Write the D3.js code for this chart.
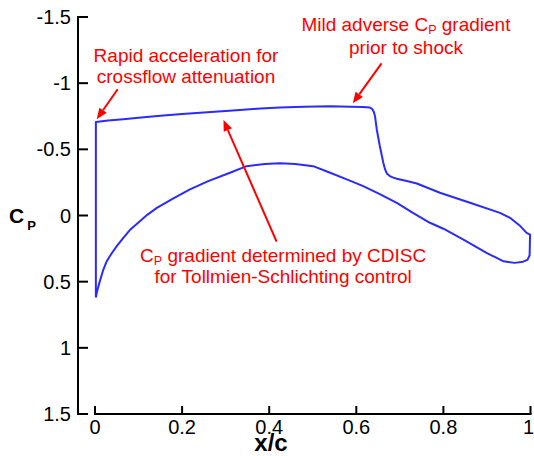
<!DOCTYPE html>
<html>
<head>
<meta charset="utf-8">
<script src="https://cdn.jsdelivr.net/npm/d3@7"></script>
<style>
  html, body { margin: 0; padding: 0; background: #fff; }
  svg { display: block; }
</style>
</head>
<body>
<svg id="chart" width="534" height="456"></svg>
<script>
// ---- data ----
// Upper surface: leading-edge stagnation cusp, up the leading edge, aft to the trailing edge
const upperX  = [0.002, 0.002, 0.03, 0.065, 0.1, 0.15, 0.2, 0.25, 0.3, 0.333, 0.38, 0.425, 0.48, 0.54, 0.585, 0.615, 0.631, 0.636, 0.640, 0.643, 0.647, 0.654, 0.662, 0.666, 0.670, 0.677, 0.685, 0.693, 0.716, 0.739, 0.792, 0.861, 0.930, 0.955, 0.975, 0.991, 0.999];
const upperCp = [0.62, -0.707, -0.718, -0.727, -0.738, -0.753, -0.767, -0.778, -0.79, -0.798, -0.808, -0.816, -0.822, -0.826, -0.822, -0.82, -0.816, -0.806, -0.785, -0.75, -0.65, -0.525, -0.399, -0.35, -0.318, -0.298, -0.286, -0.278, -0.26, -0.242, -0.172, -0.096, -0.02, 0.022, 0.075, 0.131, 0.144];
// Lower surface: from the trailing edge forward to the leading-edge cusp
const lowerX  = [0.998, 0.993, 0.983, 0.964, 0.938, 0.92, 0.899, 0.846, 0.80, 0.769, 0.73, 0.693, 0.655, 0.616, 0.578, 0.540, 0.501, 0.46, 0.425, 0.39, 0.348, 0.310, 0.26, 0.218, 0.18, 0.142, 0.12, 0.103, 0.08, 0.065, 0.05, 0.04, 0.034, 0.026, 0.019, 0.011, 0.007, 0.004, 0.002];
const lowerCp = [0.30, 0.335, 0.349, 0.358, 0.346, 0.317, 0.283, 0.182, 0.10, 0.055, -0.02, -0.096, -0.16, -0.222, -0.273, -0.323, -0.373, -0.39, -0.394, -0.39, -0.373, -0.323, -0.26, -0.197, -0.13, -0.058, -0.005, 0.043, 0.11, 0.169, 0.232, 0.278, 0.308, 0.352, 0.41, 0.498, 0.545, 0.585, 0.62];

const xTicks = [0, 0.2, 0.4, 0.6, 0.8, 1];
const xTickLabels = ["0", "0.2", "0.4", "0.6", "0.8", "1"];
const yTicks = [-1.5, -1, -0.5, 0, 0.5, 1, 1.5];
const yTickLabels = ["-1.5", "-1", "-0.5", "0", "0.5", "1", "1.5"];

// ---- layout ----
const svg = d3.select("#chart");
const font = "'Liberation Sans', Arial, Helvetica, sans-serif";
const x = d3.scaleLinear().domain([0, 1]).range([95, 530.5]);
const y = d3.scaleLinear().domain([-1.5, 1.5]).range([17, 414]);
const yAxisX = 78;

// y axis (offset left of x=0)
svg.append("line")
  .attr("x1", yAxisX).attr("x2", yAxisX)
  .attr("y1", y(-1.5) - 1).attr("y2", y(1.5) + 1)
  .attr("stroke", "#000").attr("stroke-width", 2);
svg.selectAll(".ytick").data(yTicks).enter().append("line")
  .attr("x1", yAxisX).attr("x2", yAxisX + 10)
  .attr("y1", d => y(d)).attr("y2", d => y(d))
  .attr("stroke", "#000").attr("stroke-width", 2);
svg.selectAll(".ylab").data(yTicks).enter().append("text")
  .attr("x", yAxisX - 7).attr("y", d => y(d))
  .attr("dy", "0.35em")
  .attr("text-anchor", "end")
  .attr("font-family", font).attr("font-size", 20).attr("fill", "#000")
  .text((d, i) => yTickLabels[i]);

// x axis (from x=0 to x=1 only)
svg.append("line")
  .attr("x1", x(0) - 1).attr("x2", x(1) + 1)
  .attr("y1", y(1.5)).attr("y2", y(1.5))
  .attr("stroke", "#000").attr("stroke-width", 2);
svg.selectAll(".xtick").data(xTicks).enter().append("line")
  .attr("x1", d => x(d)).attr("x2", d => x(d))
  .attr("y1", y(1.5)).attr("y2", y(1.5) - 8)
  .attr("stroke", "#000").attr("stroke-width", 2);
svg.selectAll(".xlab").data(xTicks).enter().append("text")
  .attr("x", d => x(d)).attr("y", 434)
  .attr("dx", d => d === 1 ? -2 : 0)
  .attr("text-anchor", "middle")
  .attr("font-family", font).attr("font-size", 20).attr("fill", "#000")
  .text((d, i) => xTickLabels[i]);

// axis titles
svg.append("text")
  .attr("x", 271).attr("y", 451)
  .attr("text-anchor", "middle")
  .attr("font-family", font).attr("font-size", 24).attr("font-weight", "bold")
  .text("x/c");
const cpT = svg.append("text")
  .attr("x", 9).attr("y", 223)
  .attr("font-family", font).attr("font-weight", "bold").attr("font-size", 21);
cpT.append("tspan").text("C");
cpT.append("tspan").attr("font-size", 13).attr("dy", 7).attr("dx", 3).text("P");

// ---- Cp curve ----
const pts = upperX.map((v, i) => [v, upperCp[i]])
  .concat(lowerX.map((v, i) => [v, lowerCp[i]]));
const line = d3.line().x(d => x(d[0])).y(d => y(d[1])).curve(d3.curveLinear);
svg.append("path")
  .attr("d", line(pts))
  .attr("fill", "none")
  .attr("stroke", "#2b2bff")
  .attr("stroke-width", 2)
  .attr("stroke-linejoin", "round");

// ---- annotations (data coordinates) ----
const red = "#ff0000";
function arrow(from, to) {
  const x1 = x(from[0]), y1 = y(from[1]), x2 = x(to[0]), y2 = y(to[1]);
  const ang = Math.atan2(y2 - y1, x2 - x1);
  const L = 11, W = 4.5;
  const bx = x2 - L * Math.cos(ang), by = y2 - L * Math.sin(ang);
  svg.append("line")
    .attr("x1", x1).attr("y1", y1).attr("x2", bx).attr("y2", by)
    .attr("stroke", red).attr("stroke-width", 2);
  const px = -Math.sin(ang), py = Math.cos(ang);
  svg.append("path")
    .attr("d", `M${x2},${y2}L${bx + W * px},${by + W * py}L${bx - W * px},${by - W * py}Z`)
    .attr("fill", red);
}
arrow([0.052, -0.954], [0.004, -0.727]);
arrow([0.658, -1.150], [0.592, -0.848]);
arrow([0.417, 0.198], [0.295, -0.722]);

// before, subscript, after
function label(cx, cy, before, sub, after) {
  const t = svg.append("text")
    .attr("x", x(cx)).attr("y", y(cy))
    .attr("text-anchor", "middle")
    .attr("font-family", font).attr("font-size", 19).attr("fill", red);
  t.append("tspan").text(before);
  if (sub) {
    t.append("tspan").attr("font-size", 12.5).attr("dy", 3).text(sub);
    t.append("tspan").attr("dy", -3).text(after);
  }
}
label(0.209, -1.160, "Rapid acceleration for");
label(0.209, -1.005, "crossflow attenuation");
label(0.714, -1.394, "Mild adverse C", "P", " gradient");
label(0.714, -1.222, "prior to shock");
label(0.432, 0.349, "C", "P", " gradient determined by CDISC");
label(0.432, 0.512, "for Tollmien-Schlichting control");
</script>
</body>
</html>
